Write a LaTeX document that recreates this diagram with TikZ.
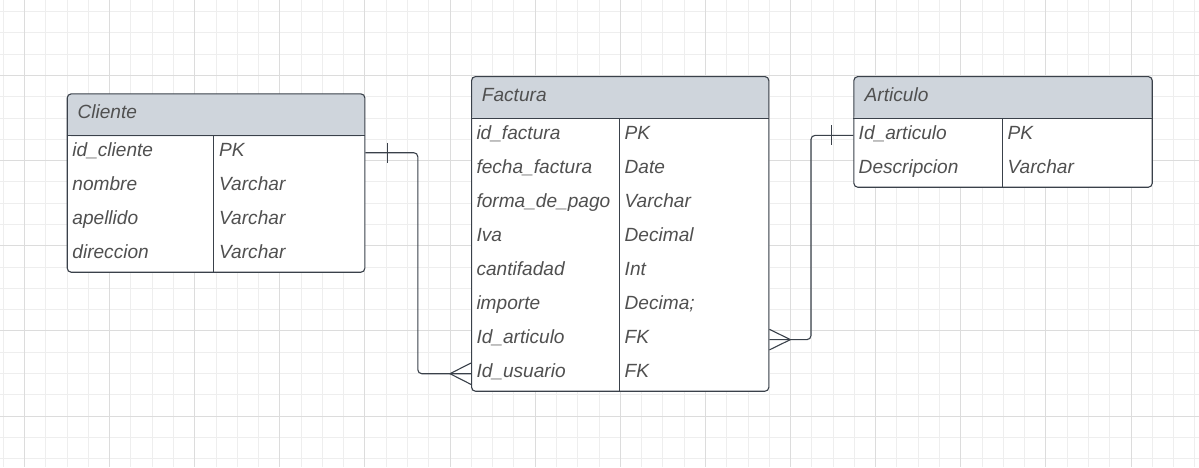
\documentclass[tikz,border=0pt]{standalone}
\usepackage{fontspec}
\setmainfont{Liberation Sans}
\usetikzlibrary{calc}
\definecolor{gridminor}{HTML}{EEEEEE}
\definecolor{gridmajor}{HTML}{DCDCDC}
\definecolor{hdrfill}{HTML}{CFD5DC}
\definecolor{edgecol}{HTML}{3A414A}
\definecolor{txtcol}{HTML}{505050}
\begin{document}
\begin{tikzpicture}[x=1pt,y=-1pt,
  tbl/.style={draw=edgecol, fill=white, line width=1.1pt, rounded corners=4pt, inner sep=0pt, anchor=north west,
    path picture={\fill[hdrfill] (path picture bounding box.north west) rectangle ($(path picture bounding box.north east)+(0,42.4)$);}},
  sepline/.style={draw=edgecol, line width=1.1pt},
  cell/.style={anchor=base west, inner sep=0pt, text=txtcol, font=\fontsize{19.1}{22}\selectfont\itshape},
  conn/.style={draw=edgecol, line width=1.1pt},
  gminor/.style={draw=gridminor, line width=0.8pt},
  gmajor/.style={draw=gridmajor, line width=0.9pt},
]
\useasboundingbox (0,0) rectangle (1199,467);
\fill[white] (0,0) rectangle (1199,467);
% grid
\foreach \i in {0,...,56} {\draw[gminor] ({3.1+21.28*\i},0) -- ({3.1+21.28*\i},467);}
\foreach \j in {0,...,21} {\draw[gminor] (0,{11.5+21.29*\j}) -- (1199,{11.5+21.29*\j});}
\foreach \i in {0,...,13} {\draw[gmajor] ({24.38+85.12*\i},0) -- ({24.38+85.12*\i},467);}
\foreach \j in {0,...,4} {\draw[gmajor] (0,{75.4+85.16*\j}) -- (1199,{75.4+85.16*\j});}

% Cliente
\node[tbl, minimum width=297.6pt, minimum height=178.4pt] (cliente) at (66.7,93.3) {};
\draw[sepline] ($(cliente.north west)+(0,42.4)$) -- ($(cliente.north east)+(0,42.4)$);
\draw[sepline] ($(cliente.north west)+(146.6,42.4)$) -- ($(cliente.south west)+(146.6,0)$);
\node[cell] (cli-t) at (77.3,118.3) {Cliente};
\node[cell] (cli-n1) at (72.2,156.7) {id\_cliente};
\node[cell] (cli-n2) at (72.2,190.7) {nombre};
\node[cell] (cli-n3) at (72.2,224.7) {apellido};
\node[cell] (cli-n4) at (72.2,258.7) {direccion};
\node[cell] (cli-y1) at (219.0,156.7) {PK};
\node[cell] (cli-y2) at (219.0,190.7) {Varchar};
\node[cell] (cli-y3) at (219.0,224.7) {Varchar};
\node[cell] (cli-y4) at (219.0,258.7) {Varchar};

% Factura
\node[tbl, minimum width=297.3pt, minimum height=314.7pt] (factura) at (471,76) {};
\draw[sepline] ($(factura.north west)+(0,42.3)$) -- ($(factura.north east)+(0,42.3)$);
\draw[sepline] ($(factura.north west)+(148.3,42.3)$) -- ($(factura.south west)+(148.3,0)$);
\node[cell] (fac-t) at (481.7,101) {Factura};
\node[cell] (fac-n1) at (476.3,139.5) {id\_factura};
\node[cell] (fac-n2) at (476.3,173.6) {fecha\_factura};
\node[cell] (fac-n3) at (476.3,207.6) {forma\_de\_pago};
\node[cell] (fac-n4) at (476.3,241.7) {Iva};
\node[cell] (fac-n5) at (476.3,275.7) {cantifadad};
\node[cell] (fac-n6) at (476.3,309.8) {importe};
\node[cell] (fac-n7) at (476.3,343.8) {Id\_articulo};
\node[cell] (fac-n8) at (476.3,377.9) {Id\_usuario};
\node[cell] (fac-y1) at (624.5,139.5) {PK};
\node[cell] (fac-y2) at (624.5,173.6) {Date};
\node[cell] (fac-y3) at (624.5,207.6) {Varchar};
\node[cell] (fac-y4) at (624.5,241.7) {Decimal};
\node[cell] (fac-y5) at (624.5,275.7) {Int};
\node[cell] (fac-y6) at (624.5,309.8) {Decima;};
\node[cell] (fac-y7) at (624.5,343.8) {FK};
\node[cell] (fac-y8) at (624.5,377.9) {FK};

% Articulo
\node[tbl, minimum width=298.4pt, minimum height=110.7pt] (articulo) at (853.3,76) {};
\draw[sepline] ($(articulo.north west)+(0,42.3)$) -- ($(articulo.north east)+(0,42.3)$);
\draw[sepline] ($(articulo.north west)+(149,42.3)$) -- ($(articulo.south west)+(149,0)$);
\node[cell] (art-t) at (864.5,101) {Articulo};
\node[cell] (art-n1) at (858.5,139.5) {Id\_articulo};
\node[cell] (art-n2) at (858.5,173.7) {Descripcion};
\node[cell] (art-y1) at (1007.5,139.5) {PK};
\node[cell] (art-y2) at (1007.5,173.7) {Varchar};

% row anchors
\coordinate (cliR1) at (0,152.7);
\coordinate (facR7) at (0,339.6);
\coordinate (facR8) at (0,373.7);
\coordinate (artR1) at (0,135.4);

% Cliente -> Factura
\draw[conn, rounded corners=4pt] (cliente.east |- cliR1) -- ++(52.4,0) |- (factura.west |- facR8);
\draw[conn] ($(cliente.east |- cliR1)+(21.7,-9.8)$) -- ++(0,19.6);
\draw[conn] ($(factura.west |- facR8)+(0,-10.7)$) -- ($(factura.west |- facR8)+(-21,0)$) -- ($(factura.west |- facR8)+(0,10.7)$);

% Articulo -> Factura
\draw[conn, rounded corners=4pt] (articulo.west |- artR1) -- ++(-42.3,0) |- (factura.east |- facR7);
\draw[conn] ($(articulo.west |- artR1)+(-21.6,-10)$) -- ++(0,20);
\draw[conn] ($(factura.east |- facR7)+(0,-10.3)$) -- ($(factura.east |- facR7)+(21,0)$) -- ($(factura.east |- facR7)+(0,10.3)$);
\end{tikzpicture}
\end{document}
